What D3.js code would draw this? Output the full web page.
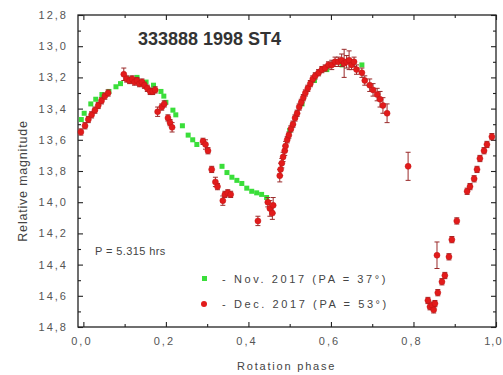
<!DOCTYPE html>
<html>
<head>
<meta charset="utf-8">
<script src="https://cdn.jsdelivr.net/npm/d3@7"></script>
<style>
  body { margin: 0; background: #fff; }
  text { font-family: "Liberation Sans", Arial, sans-serif; }
</style>
</head>
<body>
<svg id="chart" width="503" height="375"></svg>
<script>
// Nov. 2017 session (green squares)
const novPhase = [-0.005, 0.002, 0.018, 0.03, 0.045, 0.062, 0.079, 0.09, 0.11, 0.13, 0.152, 0.17, 0.188, 0.195, 0.2,
  0.217, 0.224, 0.24, 0.254, 0.265, 0.275, 0.336, 0.348, 0.36, 0.372, 0.384, 0.396, 0.408, 0.42, 0.432, 0.444,
  0.5, 0.53, 0.56, 0.59, 0.627, 0.65, 0.675];
const novMag = [13.47, 13.43, 13.37, 13.34, 13.31, 13.29, 13.26, 13.24, 13.21, 13.2, 13.23, 13.25, 13.29, 13.32, 13.36,
  13.41, 13.44, 13.51, 13.57, 13.6, 13.63, 13.77, 13.81, 13.84, 13.86, 13.88, 13.91, 13.93, 13.94, 13.95, 13.97,
  13.54, 13.37, 13.22, 13.15, 13.12, 13.1, 13.12];

// Dec. 2017 session (red circles with error bars)
const decPhase = [-0.006, 0.004, 0.012, 0.02, 0.028, 0.036, 0.044, 0.052, 0.06,
  0.098, 0.105, 0.112, 0.118, 0.124, 0.13, 0.136, 0.142, 0.148, 0.155, 0.162, 0.168, 0.174,
  0.18, 0.19, 0.196, 0.205, 0.21, 0.215,
  0.29, 0.296, 0.302, 0.311, 0.32, 0.325, 0.338, 0.343, 0.35, 0.357,
  0.423, 0.447, 0.452, 0.458, 0.46,
  0.476, 0.478, 0.481, 0.484, 0.488, 0.49, 0.494, 0.498, 0.503, 0.508, 0.513, 0.518, 0.523, 0.528, 0.533, 0.538,
  0.544, 0.55, 0.556, 0.562, 0.57, 0.578, 0.586, 0.594, 0.602, 0.61, 0.618, 0.626, 0.632, 0.638, 0.644, 0.65,
  0.656, 0.662, 0.675, 0.682, 0.694, 0.702, 0.712, 0.719, 0.726, 0.736,
  0.787,
  0.835, 0.84, 0.845, 0.849, 0.852, 0.857, 0.859, 0.869, 0.876, 0.886, 0.893, 0.905,
  0.93, 0.937, 0.947, 0.954, 0.961, 0.971, 0.978, 0.99];
const decMag = [13.55, 13.51, 13.47, 13.44, 13.41, 13.38, 13.35, 13.32, 13.3,
  13.18, 13.21, 13.22, 13.21, 13.23, 13.22, 13.24, 13.23, 13.25, 13.27, 13.29, 13.29, 13.28,
  13.42, 13.39, 13.37, 13.46, 13.49, 13.52,
  13.61, 13.63, 13.67, 13.79, 13.87, 13.9, 13.99, 13.95, 13.94, 13.95,
  14.12, 14.0, 14.04, 14.07, 14.02,
  13.83, 13.79, 13.75, 13.71, 13.67, 13.64, 13.6, 13.57, 13.53, 13.5, 13.46, 13.43, 13.39, 13.36, 13.33, 13.3,
  13.27, 13.24, 13.21, 13.19, 13.17, 13.15, 13.14, 13.12, 13.12, 13.1, 13.1, 13.09, 13.11, 13.1, 13.09, 13.12,
  13.1, 13.15, 13.17, 13.22, 13.25, 13.28, 13.31, 13.34, 13.38, 13.43,
  13.77,
  14.63, 14.67, 14.66, 14.69, 14.65, 14.34, 14.58, 14.51, 14.47, 14.35, 14.24, 14.12,
  13.93, 13.9, 13.85, 13.79, 13.72, 13.67, 13.63, 13.58];
const decErr = [0.02, 0.02, 0.02, 0.02, 0.02, 0.02, 0.02, 0.02, 0.02,
  0.04, 0.02, 0.02, 0.02, 0.02, 0.02, 0.02, 0.02, 0.02, 0.02, 0.02, 0.02, 0.02,
  0.03, 0.02, 0.02, 0.02, 0.02, 0.03,
  0.02, 0.03, 0.02, 0.02, 0.03, 0.02, 0.03, 0.02, 0.02, 0.02,
  0.03, 0.03, 0.05, 0.04, 0.05,
  0.04, 0.04, 0.03, 0.03, 0.03, 0.03, 0.02, 0.02, 0.02, 0.02, 0.02, 0.02, 0.02, 0.02, 0.02, 0.02,
  0.02, 0.02, 0.02, 0.02, 0.02, 0.02, 0.02, 0.02, 0.03, 0.03, 0.03, 0.04, 0.09, 0.04, 0.06, 0.03,
  0.03, 0.03, 0.03, 0.03, 0.04, 0.04, 0.04, 0.05, 0.05, 0.06,
  0.09,
  0.02, 0.02, 0.02, 0.02, 0.02, 0.085, 0.02, 0.02, 0.02, 0.02, 0.02, 0.02,
  0.02, 0.02, 0.02, 0.02, 0.02, 0.02, 0.02, 0.02];

const xMajor = [0, 0.2, 0.4, 0.6, 0.8, 1.0];
const xMinor = [0.1, 0.3, 0.5, 0.7, 0.9];
const yMajor = [12.8, 13.0, 13.2, 13.4, 13.6, 13.8, 14.0, 14.2, 14.4, 14.6, 14.8];
const yMinor = [12.9, 13.1, 13.3, 13.5, 13.7, 13.9, 14.1, 14.3, 14.5, 14.7];

const svg = d3.select('#chart');
const plotL = 78, plotR = 496, plotT = 15, plotB = 327;

const x = d3.scaleLinear().domain([-0.013, 1.0]).range([plotL, plotR]);
const y = d3.scaleLinear().domain([12.8, 14.8]).range([plotT, plotB]);

const fmt = d => d3.format('.1f')(d).replace('.', ',');

// frame
svg.append('rect')
  .attr('x', plotL).attr('y', plotT)
  .attr('width', plotR - plotL).attr('height', plotB - plotT)
  .attr('fill', 'none').attr('stroke', '#222').attr('stroke-width', 1.3);

function styleAxis(g, labels) {
  g.select('.domain').remove();
  g.selectAll('.tick line').attr('stroke', '#222').attr('stroke-width', 1.1);
  if (labels) {
    g.selectAll('.tick text')
      .attr('fill', '#555')
      .style('font-size', '11px')
      .style('letter-spacing', '2px');
  } else {
    g.selectAll('.tick text').remove();
  }
}

// bottom
svg.append('g').attr('transform', `translate(0,${plotB})`)
  .call(d3.axisBottom(x).tickValues(xMajor).tickSize(-5).tickPadding(10).tickFormat(fmt))
  .call(g => styleAxis(g, true))
  .call(g => g.selectAll('.tick text').attr('dx', '-2px'))
  // last label sits against the right edge of the picture
  .call(g => g.selectAll('.tick text').filter(d => d === 1.0)
    .attr('text-anchor', 'end').attr('dx', '6px').style('letter-spacing', '1px'));
svg.append('g').attr('transform', `translate(0,${plotB})`)
  .call(d3.axisBottom(x).tickValues(xMinor).tickSize(-3))
  .call(g => styleAxis(g, false));
// top
svg.append('g').attr('transform', `translate(0,${plotT})`)
  .call(d3.axisTop(x).tickValues(xMajor).tickSize(-5))
  .call(g => styleAxis(g, false));
svg.append('g').attr('transform', `translate(0,${plotT})`)
  .call(d3.axisTop(x).tickValues(xMinor).tickSize(-3))
  .call(g => styleAxis(g, false));
// left
svg.append('g').attr('transform', `translate(${plotL},0)`)
  .call(d3.axisLeft(y).tickValues(yMajor).tickSize(-5).tickPadding(10).tickFormat(fmt))
  .call(g => styleAxis(g, true));
svg.append('g').attr('transform', `translate(${plotL},0)`)
  .call(d3.axisLeft(y).tickValues(yMinor).tickSize(-3))
  .call(g => styleAxis(g, false));
// right
svg.append('g').attr('transform', `translate(${plotR},0)`)
  .call(d3.axisRight(y).tickValues(yMajor).tickSize(-5))
  .call(g => styleAxis(g, false));
svg.append('g').attr('transform', `translate(${plotR},0)`)
  .call(d3.axisRight(y).tickValues(yMinor).tickSize(-3))
  .call(g => styleAxis(g, false));

// green series
const nov = novPhase.map((p, i) => ({ p, m: novMag[i] }));
svg.append('g').selectAll('rect')
  .data(nov)
  .enter().append('rect')
    .attr('x', d => x(d.p) - 2.5)
    .attr('y', d => y(d.m) - 2.5)
    .attr('width', 5).attr('height', 5)
    .attr('fill', '#3ade3a');

// red series with error bars
const dec = decPhase.map((p, i) => ({ p, m: decMag[i], e: decErr[i] }));
const eb = svg.append('g').attr('stroke', '#9a2a2a').attr('stroke-width', 1);
dec.forEach(d => {
  const cx = x(d.p), y0 = y(d.m - d.e), y1 = y(d.m + d.e);
  eb.append('line').attr('x1', cx).attr('x2', cx).attr('y1', y0).attr('y2', y1);
  eb.append('line').attr('x1', cx - 2.5).attr('x2', cx + 2.5).attr('y1', y0).attr('y2', y0);
  eb.append('line').attr('x1', cx - 2.5).attr('x2', cx + 2.5).attr('y1', y1).attr('y2', y1);
});
svg.append('g').selectAll('circle')
  .data(dec)
  .enter().append('circle')
    .attr('cx', d => x(d.p))
    .attr('cy', d => y(d.m))
    .attr('r', 3)
    .attr('fill', '#e21b1b')
    .attr('stroke', '#c01515')
    .attr('stroke-width', 0.5);

// texts
svg.append('text')
  .attr('x', 138).attr('y', 45)
  .attr('fill', '#333')
  .style('font-size', '18px').style('font-weight', 'bold')
  .text('333888 1998 ST4');

svg.append('text')
  .attr('x', 95).attr('y', 255)
  .attr('fill', '#444')
  .style('font-size', '11px').style('letter-spacing', '0.4px')
  .text('P = 5.315 hrs');

// legend
svg.append('rect').attr('x', 202).attr('y', 276).attr('width', 5).attr('height', 5).attr('fill', '#3ade3a');
svg.append('circle').attr('cx', 204).attr('cy', 304).attr('r', 3).attr('fill', '#e21b1b');
svg.append('text')
  .attr('x', 222).attr('y', 283)
  .attr('fill', '#444')
  .style('font-size', '11px').style('letter-spacing', '2.6px')
  .text('- Nov. 2017 (PA = 37°)');
svg.append('text')
  .attr('x', 222).attr('y', 308)
  .attr('fill', '#444')
  .style('font-size', '11px').style('letter-spacing', '2.6px')
  .text('- Dec. 2017 (PA = 53°)');

// axis titles
svg.append('text')
  .attr('x', 237).attr('y', 370)
  .attr('fill', '#444')
  .style('font-size', '11px').style('letter-spacing', '1.8px')
  .text('Rotation phase');

svg.append('text')
  .attr('transform', 'translate(27,181) rotate(-90)')
  .attr('text-anchor', 'middle')
  .attr('fill', '#444')
  .style('font-size', '12.5px').style('letter-spacing', '0.8px')
  .text('Relative magnitude');
</script>
</body>
</html>
